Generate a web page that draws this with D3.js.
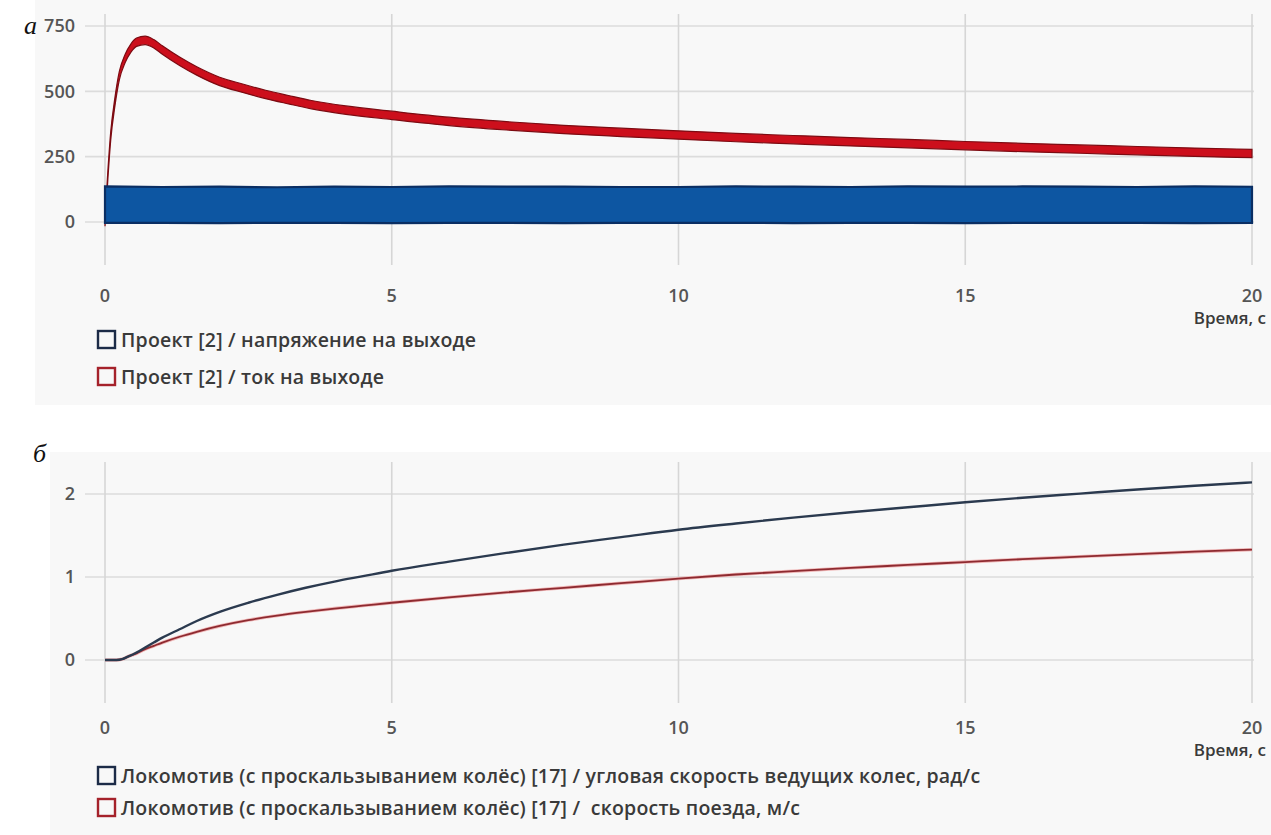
<!DOCTYPE html>
<html>
<head>
<meta charset="utf-8">
<script src="https://cdn.jsdelivr.net/npm/d3@7/dist/d3.min.js"></script>
<style>
  html, body { margin: 0; padding: 0; background: #ffffff; }
  svg { display: block; }
  .tick-label { font-family: "Open Sans", sans-serif; font-size: 18px; fill: #555; font-weight: 600; }
  .legend-text { font-family: "Open Sans", sans-serif; font-size: 19.5px; fill: #3a3a3a; font-weight: 600; letter-spacing: 0.2px; }
  .axis-title { font-family: "Open Sans", sans-serif; font-size: 17px; fill: #3a3a3a; font-weight: 600; }
  .panel-letter { font-family: "Liberation Serif", serif; font-style: italic; font-size: 26px; fill: #111; }
</style>
</head>
<body>
<svg id="chart" width="1271" height="835"></svg>
<script>
// ---- Panel (а): output voltage and current ----
const timeTicks = [0, 5, 10, 15, 20];
const topYTicks = [0, 250, 500, 750];

// Output current (red), ripple centre line
const currentTime = [0, 0.05, 0.1, 0.17, 0.25, 0.35, 0.45, 0.55, 0.7, 0.85, 1.0, 1.3, 1.6, 2.0, 2.4, 2.8, 3.2, 3.6, 4.2, 5, 6, 7, 8, 9, 10, 11, 12, 13, 14, 15, 16, 17, 18, 19, 20];
const currentValue = [0, 180, 330, 455, 560, 625, 665, 688, 695, 682, 658, 615, 578, 538, 512, 488, 468, 449, 428, 408, 385, 368, 354, 343, 333, 323, 315, 307, 300, 292, 285, 279, 273, 267, 262];
const currentRipple = 16;

// Output voltage (blue), PWM switching envelope
const voltageTime = [0, 1, 2, 3, 4, 5, 6, 7, 8, 9, 10, 11, 12, 13, 14, 15, 16, 17, 18, 19, 20];
const voltageHigh = [136, 134, 135, 133, 135, 134, 136, 135, 135, 134, 134, 136, 135, 134, 136, 135, 136, 135, 134, 136, 135];
const voltageLow  = [-3, -3, -4, -3, -3, -4, -3, -3, -4, -3, -3, -3, -4, -3, -3, -4, -3, -3, -3, -4, -3];

const topLegend = ["Проект [2] / напряжение на выходе", "Проект [2] / ток на выходе"];

// ---- Panel (б): wheel angular speed and train speed ----
const bottomYTicks = [0, 1, 2];
const speedTime = [0, 0.2, 0.3, 0.4, 0.55, 0.7, 0.85, 1.0, 1.3, 1.6, 2.0, 2.5, 3.0, 3.5, 4.0, 4.5, 5, 6, 7, 8, 9, 10, 11, 12, 13, 14, 15, 16, 17, 18, 19, 20];
const wheelSpeed = [0, 0, 0.01, 0.04, 0.09, 0.15, 0.21, 0.27, 0.37, 0.47, 0.58, 0.69, 0.785, 0.87, 0.945, 1.01, 1.075, 1.185, 1.29, 1.39, 1.48, 1.57, 1.645, 1.715, 1.78, 1.84, 1.9, 1.955, 2.005, 2.055, 2.1, 2.14];
const trainSpeed = [0, 0, 0.01, 0.04, 0.08, 0.13, 0.17, 0.21, 0.28, 0.34, 0.41, 0.48, 0.535, 0.58, 0.62, 0.655, 0.69, 0.755, 0.815, 0.87, 0.925, 0.98, 1.03, 1.07, 1.11, 1.145, 1.18, 1.215, 1.245, 1.275, 1.305, 1.33];

const bottomLegend = [
  "Локомотив (с проскальзыванием колёс) [17] / угловая скорость ведущих колес, рад/с",
  "Локомотив (с проскальзыванием колёс) [17] /  скорость поезда, м/с"
];

const axisTitle = "Время, с";

const svg = d3.select("#chart");

// panel backgrounds
svg.append("rect").attr("x", 35).attr("y", 0).attr("width", 1236).attr("height", 405).attr("fill", "#f8f8f8");
svg.append("rect").attr("x", 50).attr("y", 452).attr("width", 1221).attr("height", 383).attr("fill", "#f8f8f8");

const x = d3.scaleLinear().domain([0, 20]).range([105, 1252]);

function drawFrame(y, yTicks, gridTop, gridBottom, tickLabelY, titleY) {
  const g = svg.append("g");
  // horizontal grid
  g.selectAll(".hgrid").data(yTicks).join("line")
    .attr("x1", 85).attr("x2", 1254)
    .attr("y1", d => y(d)).attr("y2", d => y(d))
    .attr("stroke", "#dcdcdc").attr("stroke-width", 1.6);
  // vertical grid
  g.selectAll(".vgrid").data(timeTicks).join("line")
    .attr("x1", d => x(d)).attr("x2", d => x(d))
    .attr("y1", gridTop).attr("y2", gridBottom)
    .attr("stroke", "#d6d6d6").attr("stroke-width", 1.6);
  // y tick labels
  g.selectAll(".ylab").data(yTicks).join("text")
    .attr("class", "tick-label")
    .attr("x", 75).attr("y", d => y(d)).attr("dy", "0.36em")
    .attr("text-anchor", "end")
    .text(d => d);
  // x tick labels
  g.selectAll(".xlab").data(timeTicks).join("text")
    .attr("class", "tick-label")
    .attr("x", d => x(d)).attr("y", tickLabelY)
    .attr("text-anchor", "middle")
    .text(d => d);
  g.append("text").attr("class", "axis-title")
    .attr("x", 1266).attr("y", titleY).attr("text-anchor", "end")
    .text(axisTitle);
}

function drawLegend(items, colors, y0, dy) {
  items.forEach((label, i) => {
    const cy = y0 + i * dy;
    svg.append("rect")
      .attr("x", 98).attr("y", cy - 9).attr("width", 17).attr("height", 17)
      .attr("fill", "none").attr("stroke", colors[i]).attr("stroke-width", 2.4);
    svg.append("text").attr("class", "legend-text")
      .attr("x", 121).attr("y", cy).attr("dy", "0.35em")
      .style("white-space", "pre")
      .text(label);
  });
}

// ---- Panel (а) ----
const yTop = d3.scaleLinear().domain([0, 750]).range([222, 26]);
drawFrame(yTop, topYTicks, 14, 265, 302, 324);

const currentData = currentTime.map((t, i) => ({ t, v: currentValue[i] }));
const currentArea = d3.area()
  .x(d => x(d.t))
  .y0(d => yTop(d.v - currentRipple))
  .y1(d => yTop(d.v + currentRipple))
  .curve(d3.curveMonotoneX);
svg.append("path").datum(currentData)
  .attr("d", currentArea)
  .attr("fill", "#cc0f1c").attr("stroke", "#7d0b12").attr("stroke-width", 1.2);

const voltageData = voltageTime.map((t, i) => ({ t, hi: voltageHigh[i], lo: voltageLow[i] }));
const voltageArea = d3.area()
  .x(d => x(d.t))
  .y0(d => yTop(d.lo))
  .y1(d => yTop(d.hi))
  .curve(d3.curveLinear);
svg.append("path").datum(voltageData)
  .attr("d", voltageArea)
  .attr("fill", "#0d56a2").attr("stroke", "#0a2e63").attr("stroke-width", 2.2);

drawLegend(topLegend, ["#1c2b47", "#a5222b"], 340, 37);

svg.append("text").attr("class", "panel-letter").attr("x", 24).attr("y", 34).text("а");

// ---- Panel (б) ----
const yBottom = d3.scaleLinear().domain([0, 2]).range([660, 494]);
drawFrame(yBottom, bottomYTicks, 462, 703, 734, 756);

const speedLine = (values) => d3.line()
  .x((d, i) => x(speedTime[i]))
  .y(d => yBottom(d))
  .curve(d3.curveMonotoneX)(values);

svg.append("path").attr("d", speedLine(trainSpeed))
  .attr("fill", "none").attr("stroke", "#f0b8b8").attr("stroke-width", 3.4);
svg.append("path").attr("d", speedLine(trainSpeed))
  .attr("fill", "none").attr("stroke", "#8e2a30").attr("stroke-width", 1.8);
svg.append("path").attr("d", speedLine(wheelSpeed))
  .attr("fill", "none").attr("stroke", "#2b3a4f").attr("stroke-width", 2.4);

drawLegend(bottomLegend, ["#1c2b47", "#a5222b"], 776, 32);

svg.append("text").attr("class", "panel-letter").attr("x", 33).attr("y", 462).text("б");
</script>
</body>
</html>
